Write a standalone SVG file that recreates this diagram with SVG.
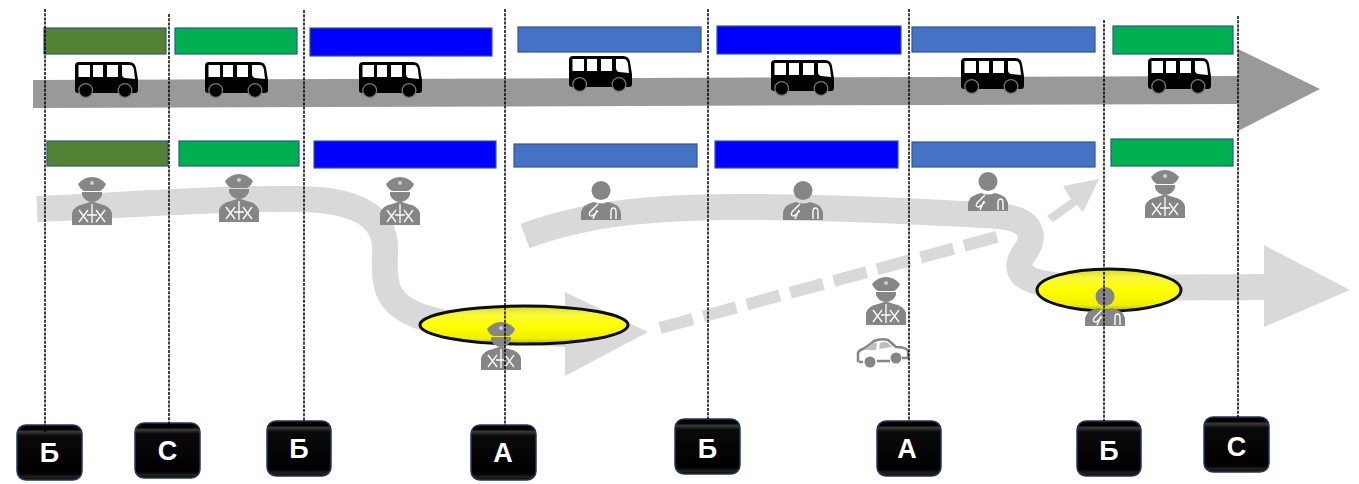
<svg xmlns="http://www.w3.org/2000/svg" xmlns:xlink="http://www.w3.org/1999/xlink" width="1359" height="484" viewBox="0 0 1359 484">
<style>
.bar{stroke:#2F5597;stroke-width:1.2}
.ol{fill:#548235}.gr{fill:#00B050}.bl{fill:#0000FF}.st{fill:#4472C4}
.v{fill:none;stroke:#000;stroke-width:1.5;stroke-dasharray:3 1.2}
.lt{fill:none;stroke:#D9D9D9;stroke-width:26}
.ltf{fill:#D9D9D9}
.el{stroke:#0d0d0d;stroke-width:3;fill:url(#yl)}
.btn{fill:url(#bk);stroke:#1F3864;stroke-width:1.5}
.lb{font:bold 27px "Liberation Sans",Arial,sans-serif;fill:#fff;text-anchor:middle}
</style>
<defs>
<linearGradient id="yl" x1="0" y1="0" x2="0" y2="1"><stop offset="0" stop-color="#d8d820"/><stop offset=".2" stop-color="#f6f640"/><stop offset=".5" stop-color="#ffff00"/><stop offset=".85" stop-color="#f0f000"/><stop offset="1" stop-color="#b8b800"/></linearGradient>
<linearGradient id="bk" x1="0" y1="0" x2="0" y2="1"><stop offset="0" stop-color="#000"/><stop offset=".08" stop-color="#000"/><stop offset=".12" stop-color="#3a3a3a"/><stop offset=".2" stop-color="#0a0a0a"/><stop offset=".88" stop-color="#000"/><stop offset=".95" stop-color="#222"/><stop offset="1" stop-color="#000"/></linearGradient>
<symbol id="bus" width="63" height="35" viewBox="0 0 63 35" overflow="visible">
<path d="M4 0H54Q60 0 61 6L63 18V28Q63 31 60 31H3Q0 31 0 28V4Q0 0 4 0Z" fill="#000"/>
<path d="M3.500 3H15V15H3.500ZM18 3H28V15H18ZM32 3H43V15H32ZM47 3H55Q58 3 59 8L60 17L50 16Q47 15 47 12Z" fill="#fff"/>
<circle cx="10.700" cy="28.500" r="7.500" fill="#777"/><circle cx="50" cy="28.500" r="7.500" fill="#777"/>
<circle cx="10.700" cy="28.500" r="6.200" fill="#000"/><circle cx="50" cy="28.500" r="6.200" fill="#000"/>
</symbol>
<symbol id="officer" width="40" height="48" viewBox="-20 0 40 48" overflow="visible">
<path d="M-14 7Q-8 0 0 0Q8 0 14 7Q12 12 8 14H-8Q-12 12 -14 7Z" fill="#868686"/>
<circle cx="0" cy="6" r="2" fill="#cfcfcf"/>
<path d="M-10 15H10V18Q7 25 0 25Q-7 25 -10 18Z" fill="#868686"/>
<path d="M-8 27L-2 25H2L8 27Q18 29 20 36V48H-20V36Q-18 29 -8 27Z" fill="#868686"/>
<path d="M0 27V46M-13 33L-4 45M-4 33L-13 45M4 33L13 45M13 33L4 45M-5 38H5" stroke="#fff" stroke-width="1.300" fill="none"/>
</symbol>
<symbol id="doctor" width="40" height="39" viewBox="-20 0 40 39" overflow="visible">
<circle cx="0" cy="9.500" r="9.500" fill="#868686"/>
<path d="M-7 21Q0 24 7 21Q18 23 20 31V39H-20V31Q-18 23 -7 21Z" fill="#868686"/>
<path d="M-3 23L-11 31Q-13 35 -9 35L-3 30M-8 38L-4 29M10 38V31Q10 27 12.500 27Q15 27 15 31V38" stroke="#fff" stroke-width="1.400" fill="none"/>
</symbol>
<symbol id="car" width="51" height="30" viewBox="0 0 51 30" overflow="visible">
<path d="M1 24V15Q2 12 8 10L17 3Q24 0 31 2L39 9Q49 9 51 13V20H45" fill="#fff" stroke="#868686" stroke-width="2.500"/>
<path d="M2 24H6M20 23H33" stroke="#868686" stroke-width="2.500"/>
<path d="M8 12L17 5Q20 4 20 6L19 12ZM23 5Q28 3 31 5L35 9L22 11Z" fill="#868686" opacity=".55"/>
<circle cx="13" cy="24" r="5.500" fill="#868686"/><circle cx="39" cy="20" r="5.500" fill="#868686"/>
</symbol>
</defs>
<rect width="1359" height="484" fill="#fff"/>
<g id="connectors">
<path id="main-arrow" d="M33 80L1238 76V49L1320 89L1238 131V104L33 108Z" fill="#999"/>
<path id="route-1" class="lt" d="M37 209C120 206 200 198 300 199C360 200 386 218 385 250C384 285 384 305 425 318C470 331 520 333 570 334"/>
<polygon class="ltf" points="565,292 648,332 565,376"/>
<path id="route-2" class="lt" d="M525 236C590 212 660 206 760 207C850 208 930 212 1000 216C1035 220 1035 238 1025 252C1012 270 1020 282 1060 286C1120 289 1200 287 1270 287"/>
<polygon class="ltf" points="1264,245 1350,290 1264,327"/>
<path id="route-dash" d="M660 328L1000 236" fill="none" stroke="#D9D9D9" stroke-width="12" stroke-dasharray="34 11"/>
<path id="route-dash-end" class="ltf" d="M1047 216L1071 199L1063 186L1099 179L1083 212L1077 205L1053 222Z"/>
</g>
<g id="bars-top">
<rect class="bar ol" x="44" y="28" width="122" height="26"/>
<rect class="bar gr" x="175" y="28" width="122" height="26"/>
<rect class="bar bl" x="310" y="28" width="182" height="28"/>
<rect class="bar st" x="518" y="27" width="183" height="25"/>
<rect class="bar bl" x="717" y="26" width="184" height="28"/>
<rect class="bar st" x="912" y="27" width="183" height="25"/>
<rect class="bar gr" x="1113" y="26" width="120" height="28"/>
</g>
<g id="bars-bottom">
<rect class="bar ol" x="47" y="141" width="121" height="25"/>
<rect class="bar gr" x="179" y="141" width="120" height="25"/>
<rect class="bar bl" x="314" y="141" width="182" height="27"/>
<rect class="bar st" x="514" y="144" width="183" height="23"/>
<rect class="bar bl" x="715" y="141" width="183" height="27"/>
<rect class="bar st" x="912" y="142" width="183" height="25"/>
<rect class="bar gr" x="1111" y="139" width="122" height="27"/>
</g>
<g id="buses">
<use xlink:href="#bus" href="#bus" x="75" y="62"/>
<use xlink:href="#bus" href="#bus" x="205" y="62"/>
<use xlink:href="#bus" href="#bus" x="359" y="62"/>
<use xlink:href="#bus" href="#bus" x="569" y="56"/>
<use xlink:href="#bus" href="#bus" x="771" y="60"/>
<use xlink:href="#bus" href="#bus" x="961" y="58"/>
<use xlink:href="#bus" href="#bus" x="1148" y="58"/>
</g>
<g id="ellipse-1"><ellipse class="el" cx="524" cy="325" rx="104" ry="19"/></g>
<g id="ellipse-2"><ellipse class="el" cx="1109" cy="290" rx="72" ry="21"/></g>
<g id="staff">
<use xlink:href="#officer" href="#officer" x="72" y="177"/>
<use xlink:href="#officer" href="#officer" x="219" y="174"/>
<use xlink:href="#officer" href="#officer" x="380" y="177"/>
<use xlink:href="#officer" href="#officer" x="481" y="322"/>
<use xlink:href="#officer" href="#officer" x="866" y="277"/>
<use xlink:href="#officer" href="#officer" x="1145" y="170"/>
<use xlink:href="#doctor" href="#doctor" x="581" y="181"/>
<use xlink:href="#doctor" href="#doctor" x="783" y="181"/>
<use xlink:href="#doctor" href="#doctor" x="968" y="172"/>
<use xlink:href="#doctor" href="#doctor" x="1085" y="287"/>
<use xlink:href="#car" href="#car" x="857" y="338"/>
</g>
<g id="buttons">
<g id="btn-1"><rect class="btn" x="17" y="425" width="65" height="55" rx="9"/><text class="lb" x="49.500" y="462">Б</text></g>
<g id="btn-2"><rect class="btn" x="135" y="423" width="65" height="55" rx="9"/><text class="lb" x="167.500" y="460">С</text></g>
<g id="btn-3"><rect class="btn" x="267" y="421" width="64" height="55" rx="9"/><text class="lb" x="299" y="458">Б</text></g>
<g id="btn-4"><rect class="btn" x="471" y="425" width="65" height="55" rx="9"/><text class="lb" x="503" y="462">А</text></g>
<g id="btn-5"><rect class="btn" x="675" y="419" width="65" height="55" rx="9"/><text class="lb" x="707.500" y="458">Б</text></g>
<g id="btn-6"><rect class="btn" x="877" y="421" width="64" height="55" rx="9"/><text class="lb" x="907" y="458">А</text></g>
<g id="btn-7"><rect class="btn" x="1077" y="421" width="64" height="55" rx="9"/><text class="lb" x="1109" y="460">Б</text></g>
<g id="btn-8"><rect class="btn" x="1204" y="417" width="65" height="55" rx="9"/><text class="lb" x="1236.500" y="456">С</text></g>
</g>
<g id="guides">
<path class="v" d="M45 9V432"/><path class="v" d="M169 14V430"/><path class="v" d="M304 10V422"/><path class="v" d="M505 9V428"/><path class="v" d="M708 9V419"/><path class="v" d="M909 9V421"/><path class="v" d="M1104 20V421"/><path class="v" d="M1238 16V417"/>
</g>
</svg>
